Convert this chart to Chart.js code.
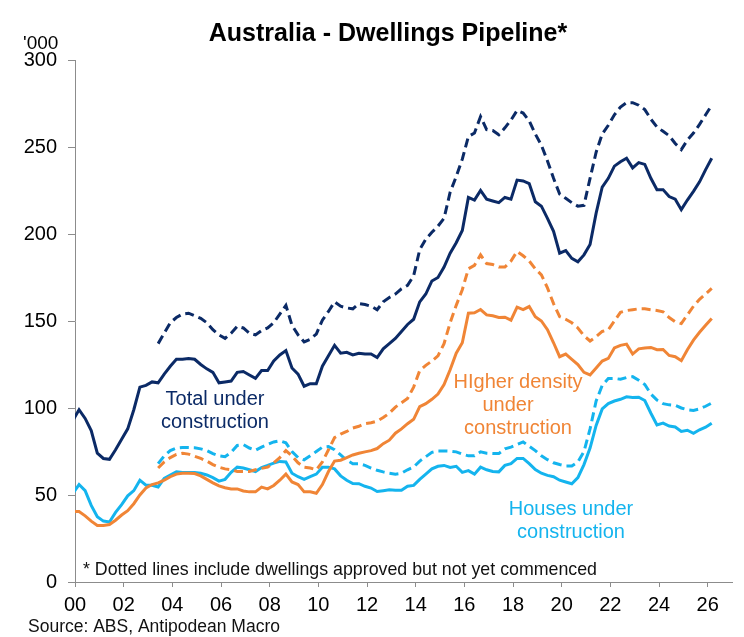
<!DOCTYPE html>
<html>
<head>
<meta charset="utf-8">
<script src="https://cdn.jsdelivr.net/npm/chart.js@4.4.0/dist/chart.umd.min.js"></script>
<style>
  html, body { margin: 0; padding: 0; background: #fff; }
  #wrap { width: 744px; height: 637px; }
</style>
</head>
<body>
<div id="wrap"><canvas id="pipelineChart" width="744" height="637"></canvas></div>
<script>
// === Data (quarterly, Dec 1999 to Mar 2026, '000 dwellings) ===
const quarters = [];
for (let i = 0; i < 106; i++) quarters.push(1999 + 11 / 12 + i / 4);

// pipeline (dotted) series begin at this quarter index
const PIPELINE_START = 14;

const totalUnderConstruction = [
  93, 99, 94, 87, 74, 71, 70.5, 76, 82, 88,
  99, 112, 113, 115, 114.5, 119.5, 124, 128, 128, 128.5,
  128, 125, 122.5, 120.5, 114.5, 115, 115.5, 120.5, 121, 119,
  117, 121.5, 121.5, 127, 130.5, 133, 123, 119.5, 112.5, 114,
  114, 124, 130, 136, 131.5, 132, 130.5, 131.5, 131, 131,
  129, 134, 137, 140, 144, 148, 151, 161, 165.5, 173,
  175, 181, 189, 195, 202, 221, 219.5, 225, 220, 219,
  218, 221, 220, 231, 230.5, 229, 218.5, 216, 209, 201.5,
  189, 190.5, 186, 184, 188, 194, 212, 227, 232, 239,
  241.5, 243.5, 238, 241, 240, 232, 225.5, 225.5, 221.5, 220,
  214, 219.5, 224.5, 230, 237, 243.5
];

const totalPipeline = [
  137, 143, 149, 152, 154, 154.5, 153, 151.5, 149, 145,
  142, 140, 143, 147, 146, 143, 142, 144.5, 146, 149,
  154, 159, 147.5, 142, 138, 139.5, 142.5, 150.5, 155.5, 161,
  158.5, 157.5, 157, 160, 159.5, 158.5, 156.5, 161, 163.5, 165.5,
  168.5, 170.5, 176, 191, 197, 201, 204.5, 209, 224, 233,
  243, 256, 258, 267.5, 260, 259.5, 257, 261, 265.5, 271,
  269.5, 265, 257.5, 251, 242, 232, 223, 220.5, 218, 216,
  216.5, 232, 247, 257.5, 262.5, 268.5, 273, 275.5, 275.5, 274,
  271.5, 266, 261.5, 259, 256.5, 252, 248.5, 254, 258, 263,
  268.5, 274
];

const higherDensity = [
  40.5, 40.5, 38, 35, 32.5, 32.5, 33, 35.5, 38.5, 41,
  45, 50, 54, 56, 57, 58.5, 60.5, 62, 62.5, 62.5,
  62.3, 61, 59, 57, 55.2, 54.2, 53.5, 53.5, 52.3, 51.8,
  51.8, 54.5, 53.5, 55.5, 58.5, 62, 57.5, 56, 51.8, 51.8,
  51, 56, 63.5, 69.5, 70, 71.5, 73, 74, 74.8, 75.5,
  76.7, 79.5, 81.5, 85.5, 88, 91, 93.5, 100.8, 102.5, 105,
  108, 113.5, 122, 131.5, 137.5, 154.5, 154.7, 156.6, 153.5, 153,
  152, 152.2, 150.5, 158, 156.5, 158.3, 152.5, 150, 145, 137.5,
  129.5, 131, 128, 125, 120.5, 119, 123, 127, 128.5, 134.5,
  136, 136.7, 131, 134, 134.5, 134.8, 133.5, 133.6, 130.2, 129.5,
  127.2, 133.5, 139, 143.5, 147.5, 151.5
];

const higherDensityPipeline = [
  65.5, 69, 71.5, 73.3, 74, 73.5, 72.3, 71, 69.5, 67.5,
  66, 65, 64.5, 63.5, 63.5, 63.5, 64.5, 65.3, 66, 68.5,
  71.5, 75.5, 72.5, 68.5, 66, 65.5, 64.5, 69, 76, 83,
  85, 86.5, 88.5, 89.5, 91, 91.5, 92.5, 94.5, 97, 100.5,
  103, 105.5, 112, 121.5, 124.5, 127, 130, 137, 149, 159,
  168, 180, 182, 188, 183, 182.5, 181, 181, 184.5, 190,
  187.5, 184.5, 180, 176.5, 169, 160, 152.5, 151, 149, 146,
  141.5, 138.5, 141, 144, 145, 150, 155, 156, 156.5, 157,
  157, 156.5, 156, 155.3, 152, 149.5, 148.5, 153.5, 158.5, 162.5,
  165.5, 168.7
];

const houses = [
  51, 56, 52.5, 44, 37.5, 35, 34.5, 40, 44.5, 49.5,
  52.5, 58.5, 55.6, 55.6, 54.6, 59.5, 61.5, 63.3, 63, 63,
  63, 62.5, 61.5, 60, 58, 59, 63, 66, 65.5, 64.5,
  63.5, 65.8, 67, 68.3, 69.3, 69, 62.5, 60.5, 59, 60.5,
  62, 66, 66, 65, 61, 58.5, 56.6, 56.5, 55, 54,
  52, 52.5, 53, 52.7, 52.7, 55, 55.5, 59, 62, 65,
  66.5, 67, 65.8, 66.5, 63, 64, 62, 66, 64.5, 63.5,
  63.3, 67, 68, 71, 71, 68, 64.6, 62.5, 61.3, 60.5,
  58.5, 57.5, 56.5, 60, 67.5, 77, 90, 99.5, 102.5, 104,
  105, 106.4, 106, 106.2, 104.3, 97, 90.3, 91.3, 89.6, 89.1,
  86.5, 87.2, 85.5, 87.5, 89, 91.3
];

const housesPipeline = [
  68, 72.5, 75.5, 77, 77.3, 77.3, 77.2, 76.5, 75.5, 73.8,
  72.5, 72, 74.5, 78.5, 79, 77, 75.7, 77.5, 79, 80.5,
  81.2, 80, 75, 71.5, 70.2, 72.5, 75, 77.5, 77.8, 76,
  73, 70, 68, 68, 67, 65.5, 64.2, 63.3, 62.5, 62,
  62.5, 64.5, 66, 69.5, 72, 74.5, 75.3, 75.3, 75.2, 74.8,
  73.5, 72.5, 72.5, 74.8, 74, 73.8, 73.8, 76.5, 77.5, 79,
  80.5, 78, 75.5, 72.5, 70.3, 68.5, 67.5, 66.7, 66.7, 69,
  75, 88, 104, 113, 117, 117, 116.5, 117.5, 118, 116,
  113.5, 108, 104.5, 102.5, 101.8, 101.5, 100, 99, 98.6, 99.5,
  101, 102.9
];

const yTicks = [0, 50, 100, 150, 200, 250, 300];

// === Colours ===
const NAVY = "#0b2a66";
const ORANGE = "#f08536";
const LIGHT_BLUE = "#14b4ee";
const AXIS_GREY = "#8c8c8c";
const FONT = "'Liberation Sans', Arial, sans-serif";

function toPoints(values, start = 0) {
  return values.map((v, i) => ({ x: quarters[start + i], y: v }));
}

function lineSet(label, values, color, dashed, start) {
  return {
    label,
    data: toPoints(values, start),
    borderColor: color,
    backgroundColor: color,
    borderWidth: 3,
    borderDash: dashed ? [9, 5] : [],
    pointRadius: 0,
    tension: 0,
    fill: false,
  };
}

// === Text overlay: title, unit, notes, series labels ===
const textPlugin = {
  id: "textOverlay",
  afterDraw(chart) {
    const ctx = chart.ctx;
    ctx.save();
    ctx.textBaseline = "alphabetic";

    ctx.fillStyle = "#000";
    ctx.font = `bold 25px ${FONT}`;
    ctx.textAlign = "center";
    ctx.fillText("Australia - Dwellings Pipeline*", 388, 41);

    ctx.font = `19px ${FONT}`;
    ctx.textAlign = "left";
    ctx.fillText("'000", 23, 49);

    ctx.font = `17.8px ${FONT}`;
    ctx.fillStyle = "#111";
    ctx.fillText("* Dotted lines include dwellings approved but not yet commenced", 83, 575);

    ctx.font = `17.5px ${FONT}`;
    ctx.fillText("Source: ABS, Antipodean Macro", 28, 632);

    ctx.font = `20px ${FONT}`;
    ctx.textAlign = "center";
    ctx.fillStyle = NAVY;
    ctx.fillText("Total under", 215, 405);
    ctx.fillText("construction", 215, 428);

    ctx.fillStyle = ORANGE;
    ctx.fillText("HIgher density", 518, 388);
    ctx.fillText("under", 508, 411);
    ctx.fillText("construction", 518, 434);

    ctx.fillStyle = LIGHT_BLUE;
    ctx.fillText("Houses under", 571, 515);
    ctx.fillText("construction", 571, 538);

    ctx.restore();
  },
};

// === Chart ===
function renderChart() {
  new Chart(document.getElementById("pipelineChart"), {
    type: "line",
    data: {
      datasets: [
        lineSet("Total pipeline", totalPipeline, NAVY, true, PIPELINE_START),
        lineSet("Total under construction", totalUnderConstruction, NAVY, false, 0),
        lineSet("Higher density pipeline", higherDensityPipeline, ORANGE, true, PIPELINE_START),
        lineSet("Higher density under construction", higherDensity, ORANGE, false, 0),
        lineSet("Houses pipeline", housesPipeline, LIGHT_BLUE, true, PIPELINE_START),
        lineSet("Houses under construction", houses, LIGHT_BLUE, false, 0),
      ],
    },
    options: {
      responsive: false,
      animation: false,
      layout: { padding: { top: 60, left: 0, right: 12, bottom: 0 } },
      plugins: {
        legend: { display: false },
        tooltip: { enabled: false },
        title: { display: false },
      },
      scales: {
        x: {
          type: "linear",
          min: 2000,
          max: 2027,
          grid: { display: true, drawOnChartArea: false, drawTicks: true, tickLength: 5, color: AXIS_GREY },
          border: { display: true, color: AXIS_GREY, width: 1 },
          ticks: {
            stepSize: 2,
            includeBounds: false,
            autoSkip: false,
            maxRotation: 0,
            padding: 6,
            color: "#000",
            font: { family: FONT, size: 20 },
            callback: (v) => (v % 2 === 0 ? String(v % 100).padStart(2, "0") : ""),
          },
          afterFit: (scale) => { scale.height = 55; },
        },
        y: {
          min: 0,
          max: 300,
          afterBuildTicks: (scale) => { scale.ticks = yTicks.map((v) => ({ value: v })); },
          grid: { display: true, drawOnChartArea: false, drawTicks: true, tickLength: 7, color: AXIS_GREY },
          border: { display: true, color: AXIS_GREY, width: 1 },
          ticks: {
            padding: 11,
            color: "#000",
            font: { family: FONT, size: 20 },
          },
          afterFit: (scale) => { scale.width = 75; },
        },
      },
    },
    plugins: [textPlugin],
  });
}

document.addEventListener("DOMContentLoaded", renderChart);
</script>
</body>
</html>
